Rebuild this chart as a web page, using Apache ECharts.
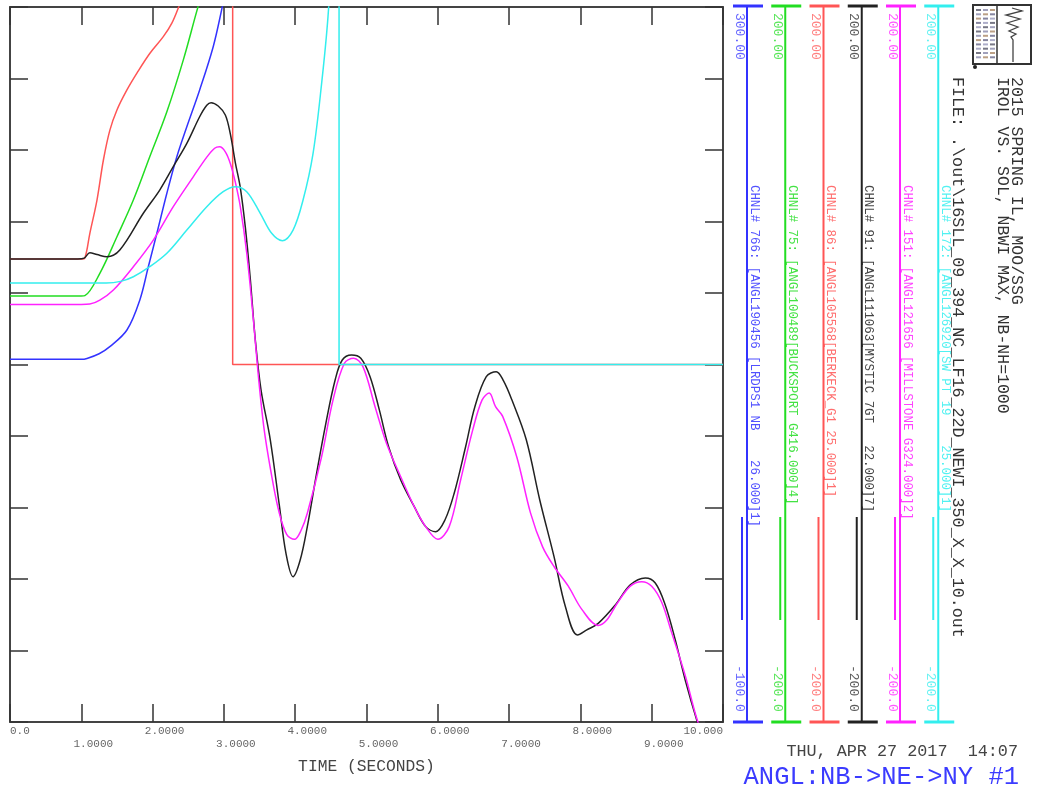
<!DOCTYPE html>
<html>
<head>
<meta charset="utf-8">
<script src="https://cdn.jsdelivr.net/npm/echarts@6/dist/echarts.min.js"></script>
<style>
html,body{margin:0;padding:0;background:#fff;}
#chart{width:1039px;height:792px;}
</style>
</head>
<body>
<div id="chart"></div>
<script>
// ---------- data ----------
const xTickLabels = ['0.0','1.0000','2.0000','3.0000','4.0000','5.0000','6.0000','7.0000','8.0000','9.0000','10.000'];

// CHNL 766 (blue, scale -100..300)
const blueT = [0, 1.0, 1.08, 1.25, 1.40, 1.64, 1.82, 1.94, 2.06, 2.20, 2.34, 2.48, 2.66, 2.85, 2.98, 3.2, 10];
const blueV = [102.9, 102.9, 103.4, 106, 110, 119.3, 136, 154.7, 173.4, 195.8, 216.2, 233, 253.6, 277.8, 300.5, 340, 520];

// CHNL 75 (green)
const greenT = [0, 1.0, 1.05, 1.26, 1.5, 1.73, 1.96, 2.2, 2.43, 2.64, 2.9, 3.2, 10];
const greenV = [38.3, 38.3, 38.5, 51, 71.5, 92, 116.2, 141.4, 170.3, 200.5, 235, 270, 420];

// CHNL 86 (red)
const redT = [0, 1.0, 1.05, 1.12, 1.22, 1.31, 1.40, 1.50, 1.64, 1.78, 1.96, 2.15, 2.27, 2.37, 2.6, 2.85, 3.05, 3.123, 3.1231, 3.14, 3.5, 10];
const redV = [59, 59, 59.6, 73.4, 92, 114.4, 131, 142.4, 153.6, 163, 174, 183.4, 191, 200.5, 225, 255, 290, 320, 0, 0, 0, 0];

// CHNL 91 (black)
const blackT = [0, 0.95, 1.04, 1.12, 1.22, 1.36, 1.54, 1.87, 2.10, 2.29, 2.48, 2.66, 2.76, 2.82, 2.92, 3.02, 3.09, 3.16, 3.23, 3.30, 3.37, 3.44, 3.52, 3.65, 3.78, 3.87, 3.97, 4.07, 4.17, 4.30, 4.43, 4.56, 4.66, 4.79, 4.92, 5.05, 5.18, 5.31, 5.48, 5.67, 5.83, 5.97, 6.10, 6.23, 6.39, 6.52, 6.68, 6.82, 6.92, 7.04, 7.24, 7.43, 7.63, 7.79, 7.96, 8.09, 8.25, 8.49, 8.70, 8.91, 9.05, 9.19, 9.33, 9.47, 9.64, 10.0];
const blackV = [59, 59, 59.5, 62.5, 61.5, 60.3, 64, 84.6, 97.6, 110.7, 123.7, 138.6, 145, 146.5, 144.6, 139.6, 129, 113, 99, 77, 48, 14, -14, -42, -79.5, -105.5, -118.7, -109.4, -90.7, -60.9, -32.9, -8.7, 2.5, 5.3, 3.5, -6.8, -25.4, -46, -64.6, -79.5, -90.7, -93.5, -87, -72, -46, -23.6, -6.8, -4, -9, -19.9, -42, -75.8, -107.5, -135.5, -151.3, -148.5, -144.8, -134.5, -123.3, -119.4, -122.2, -134.5, -154, -176.5, -200, -245];

// CHNL 151 (magenta)
const magentaT = [0, 1.0, 1.12, 1.26, 1.45, 1.73, 2.01, 2.29, 2.57, 2.76, 2.87, 2.94, 3.02, 3.09, 3.16, 3.23, 3.32, 3.41, 3.48, 3.56, 3.66, 3.77, 3.88, 3.99, 4.08, 4.17, 4.37, 4.53, 4.69, 4.82, 4.95, 5.12, 5.28, 5.48, 5.67, 5.83, 6.0, 6.16, 6.32, 6.49, 6.62, 6.72, 6.81, 6.91, 7.11, 7.30, 7.47, 7.63, 7.83, 8.02, 8.25, 8.37, 8.51, 8.70, 8.86, 9.0, 9.14, 9.28, 9.47, 9.64, 10];
const magentaV = [33.6, 33.6, 33.8, 36, 41.7, 54.7, 69.6, 88.3, 105, 116, 121, 121.8, 119, 112.5, 102, 88.3, 62.4, 26.7, -5, -35, -60, -82, -95, -97.8, -93, -83.2, -51.6, -19.9, 0.7, 3.5, -1.2, -23.6, -44, -62.8, -79.5, -90.7, -97.8, -90.7, -64.6, -36.6, -19.9, -16, -23.6, -29, -52, -83, -102, -113, -124, -137, -146, -143, -134, -124, -121.5, -124, -133, -150, -174, -199, -240];

// CHNL 172 (cyan)
const cyanT = [0, 1.35, 1.55, 1.73, 1.96, 2.2, 2.48, 2.76, 2.99, 3.16, 3.32, 3.51, 3.67, 3.82, 3.97, 4.11, 4.25, 4.37, 4.46, 4.54, 4.615, 4.6151, 4.63, 5, 10];
const cyanV = [45.6, 45.6, 46.5, 49.1, 54.7, 62.2, 75.2, 88.3, 96.7, 99.5, 96.7, 84.6, 73.4, 69.3, 75.2, 92, 118, 157, 194.6, 250, 330, 0, 0, 0, 0];

// channel legend / scales (order: blue, green, red, black, magenta, cyan)
const chanNames = [
  'CHNL# 766: [ANGL190456 [LRDPS1 NB    26.000]1]',
  'CHNL# 75: [ANGL100489[BUCKSPORT G416.000]4]',
  'CHNL# 86: [ANGL105568[BERKECK_G1 25.000]1]',
  'CHNL# 91: [ANGL111063[MYSTIC 7GT   22.000]7]',
  'CHNL# 151: [ANGL121656 [MILLSTONE G324.000]2]',
  'CHNL# 172: [ANGL126920[SW PT 19    25.000]1]'
];
const chanMax = ['300.00','200.00','200.00','200.00','200.00','200.00'];
const chanMin = ['-100.0','-200.0','-200.0','-200.0','-200.0','-200.0'];
const titleLines = ['2015 SPRING IL, MOO/SSG', 'IROL VS. SOL, NBWI MAX, NB-NH=1000'];
const fileLine = 'FILE: .\\out\\16SLL_09_394_NC_LF16_22D_NEWI_350_X_X_10.out';
const dateLine = 'THU, APR 27 2017  14:07';
const plotTitle = 'ANGL:NB->NE->NY #1';
const xName = 'TIME (SECONDS)';

// ---------- rendering ----------
const colors = ['#3333ff', '#22dd22', '#ff5555', '#222222', '#ff22ff', '#33eeee'];
const MONO = "'Liberation Mono', 'DejaVu Sans Mono', monospace";
const zip = (t, v) => t.map((x, i) => [x, v[i]]);
const seriesData = [zip(blueT, blueV), zip(greenT, greenV), zip(redT, redV), zip(blackT, blackV), zip(magentaT, magentaV), zip(cyanT, cyanV)];

const chart = echarts.init(document.getElementById('chart'), null, {renderer: 'canvas'});

const axisLineStyle = {color: '#444', width: 2};
const tickStyle = {show: true, inside: true, length: 18, lineStyle: {color: '#333', width: 1.5}};

const graphics = [];
const lineX0 = 747, step = 38.25;
for (let i = 0; i < 6; i++) {
  const x = lineX0 + i * step;
  const c = colors[i];
  graphics.push({type: 'line', shape: {x1: x, y1: 6, x2: x, y2: 722}, style: {stroke: c, lineWidth: 2}});
  graphics.push({type: 'line', shape: {x1: x - 14, y1: 6, x2: x + 16, y2: 6}, style: {stroke: c, lineWidth: 3}});
  graphics.push({type: 'line', shape: {x1: x - 14, y1: 722, x2: x + 16, y2: 722}, style: {stroke: c, lineWidth: 3}});
  graphics.push({type: 'line', shape: {x1: x - 5, y1: 517, x2: x - 5, y2: 620}, style: {stroke: c, lineWidth: 2}});
  graphics.push({type: 'text', x: x - 8, y: 13, rotation: -Math.PI / 2,
    style: {text: chanMax[i], fill: c, opacity: 0.75, font: '13px ' + MONO, align: 'left', verticalAlign: 'middle'}});
  graphics.push({type: 'text', x: x - 8, y: 665, rotation: -Math.PI / 2,
    style: {text: chanMin[i], fill: c, opacity: 0.75, font: '13px ' + MONO, align: 'left', verticalAlign: 'middle'}});
  graphics.push({type: 'text', x: x + 7, y: 185, rotation: -Math.PI / 2,
    style: {text: chanNames[i], fill: c, opacity: 0.85, font: '12.4px ' + MONO, align: 'left', verticalAlign: 'middle'}});
}
// title block
graphics.push({type: 'text', x: 1016, y: 77, rotation: -Math.PI / 2,
  style: {text: titleLines[0], fill: '#333', font: '16.5px ' + MONO, align: 'left', verticalAlign: 'middle'}});
graphics.push({type: 'text', x: 1002, y: 77, rotation: -Math.PI / 2,
  style: {text: titleLines[1], fill: '#333', font: '16.5px ' + MONO, align: 'left', verticalAlign: 'middle'}});
graphics.push({type: 'text', x: 957, y: 77, rotation: -Math.PI / 2,
  style: {text: fileLine, fill: '#333', font: '16.7px ' + MONO, align: 'left', verticalAlign: 'middle'}});
// logo
graphics.push({type: 'rect', shape: {x: 973, y: 5, width: 58, height: 59}, style: {fill: '#fff', stroke: '#333', lineWidth: 2}});
graphics.push({type: 'line', shape: {x1: 997, y1: 5, x2: 997, y2: 64}, style: {stroke: '#333', lineWidth: 1.5}});
const logoCols = ['#556', '#88a', '#a86', '#668', '#99b'];
for (let r = 0; r < 12; r++) {
  for (let k = 0; k < 3; k++) {
    graphics.push({type: 'rect', shape: {x: 976 + k * 7, y: 9 + r * 4.3, width: 5, height: 2},
      style: {fill: logoCols[(r + k) % logoCols.length], opacity: 0.8}});
  }
}
graphics.push({type: 'polyline', shape: {points: [[1012, 8], [1022, 11], [1006, 15], [1020, 19], [1007, 23], [1018, 27], [1009, 31], [1016, 34], [1011, 37], [1013, 40], [1013, 62]]},
  style: {stroke: '#444', lineWidth: 1.3, fill: null}});
graphics.push({type: 'circle', shape: {cx: 975, cy: 67, r: 2}, style: {fill: '#222'}});
// bottom right texts
graphics.push({type: 'text', x: 1018, y: 752, style: {text: dateLine, fill: '#444', font: '16.8px ' + MONO, align: 'right', verticalAlign: 'middle'}});
graphics.push({type: 'text', x: 1019, y: 777, style: {text: plotTitle, fill: '#3b3bff', font: '25.5px ' + MONO, align: 'right', verticalAlign: 'middle'}});

const option = {
  animation: false,
  backgroundColor: '#fff',
  grid: {left: 10, top: 7, right: 316, bottom: 70, containLabel: false},
  xAxis: [
    {
      type: 'value', min: 0, max: 10, interval: 1, position: 'bottom',
      axisLine: {show: true, onZero: false, lineStyle: axisLineStyle},
      axisTick: tickStyle,
      splitLine: {show: false},
      name: xName, nameLocation: 'middle', nameGap: 37,
      nameTextStyle: {fontFamily: MONO, fontSize: 16.3, color: '#444'},
      axisLabel: {
        show: true, margin: 3, fontFamily: MONO, fontSize: 11, color: '#666', lineHeight: 13,
        showMinLabel: true, showMaxLabel: true, alignMinLabel: 'left', alignMaxLabel: 'right',
        formatter: function (v) {
          const i = Math.round(v);
          const s = xTickLabels[i];
          if (i === 0) return '{e|' + s + '}';
          if (i === 10) return '{e|' + s + '}';
          return (i % 2 ? '{e|}\n' : '') + '{c|' + s + '}';
        },
        rich: {
          e: {fontFamily: MONO, fontSize: 11, color: '#666', lineHeight: 13},
          c: {fontFamily: MONO, fontSize: 11, color: '#666', lineHeight: 13, padding: [0, 0, 0, 24]}
        }
      }
    },
    {
      type: 'value', min: 0, max: 10, interval: 1, position: 'top',
      axisLine: {show: true, onZero: false, lineStyle: axisLineStyle},
      axisTick: tickStyle, axisLabel: {show: false}, splitLine: {show: false}
    }
  ],
  yAxis: [
    {
      type: 'value', min: -200, max: 200, interval: 40, position: 'left',
      axisLine: {show: true, onZero: false, lineStyle: axisLineStyle},
      axisTick: tickStyle, axisLabel: {show: false}, splitLine: {show: false}
    },
    {
      type: 'value', min: -200, max: 200, interval: 40, position: 'right',
      axisLine: {show: true, onZero: false, lineStyle: axisLineStyle},
      axisTick: tickStyle, axisLabel: {show: false}, splitLine: {show: false}
    },
    {
      type: 'value', min: -100, max: 300, interval: 40, position: 'left', show: false,
      axisLine: {onZero: false}
    }
  ],
  series: seriesData.map((d, i) => ({
    type: 'line',
    data: d,
    yAxisIndex: i === 0 ? 2 : 0,
    showSymbol: false,
    symbol: 'none',
    smooth: 0.35,
    clip: true,
    lineStyle: {color: colors[i], width: 1.5},
    z: 2 + i
  })),
  graphic: graphics
};
chart.setOption(option);
</script>
</body>
</html>
